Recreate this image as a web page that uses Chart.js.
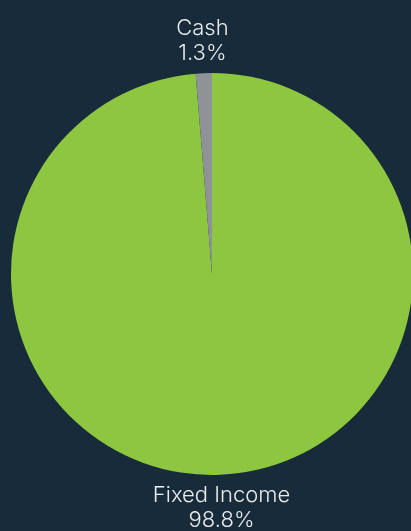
<!DOCTYPE html>
<html lang="en">
<head>
<meta charset="UTF-8">
<title>Allocation</title>
<script src="https://cdn.jsdelivr.net/npm/chart.js"></script>
<style>
  html, body { margin: 0; padding: 0; background: #172b3a; }
  #wrap { width: 411px; height: 531px; position: relative; }
</style>
</head>
<body>
<div id="wrap"><canvas id="allocChart"></canvas></div>
<script>
const categories = ['Fixed Income', 'Cash'];
const shares = [98.8, 1.3];
const sliceColors = ['#8dc63f', '#8f9398'];

// draw the category + percent labels outside each slice
const outsideLabels = {
  id: 'outsideLabels',
  afterDraw(chart) {
    const ctx = chart.ctx;
    const arcs = chart.getDatasetMeta(0).data;
    ctx.save();
    ctx.fillStyle = '#e8eaec';
    ctx.font = '300 22px Inter, sans-serif';
    ctx.textAlign = 'center';
    ctx.textBaseline = 'middle';
    arcs.forEach((arc, i) => {
      const p = arc.getProps(['x', 'y', 'startAngle', 'endAngle', 'outerRadius'], true);
      const mid = (p.startAngle + p.endAngle) / 2;
      const r = p.outerRadius + 33;
      const x = p.x + Math.cos(mid) * r;
      const y = p.y + Math.sin(mid) * r;
      ctx.fillText(categories[i], x, y - 12);
      ctx.fillText(shares[i].toFixed(1) + '%', x, y + 13);
    });
    ctx.restore();
  }
};

new Chart(document.getElementById('allocChart'), {
  type: 'pie',
  data: {
    labels: categories,
    datasets: [{
      data: shares,
      backgroundColor: sliceColors,
      borderWidth: 0,
      radius: 201
    }]
  },
  options: {
    responsive: true,
    maintainAspectRatio: false,
    animation: false,
    layout: { padding: { left: 13, right: 0, top: 17, bottom: 0 } },
    plugins: {
      legend: { display: false },
      tooltip: { enabled: false }
    }
  },
  plugins: [outsideLabels]
});
</script>
</body>
</html>
